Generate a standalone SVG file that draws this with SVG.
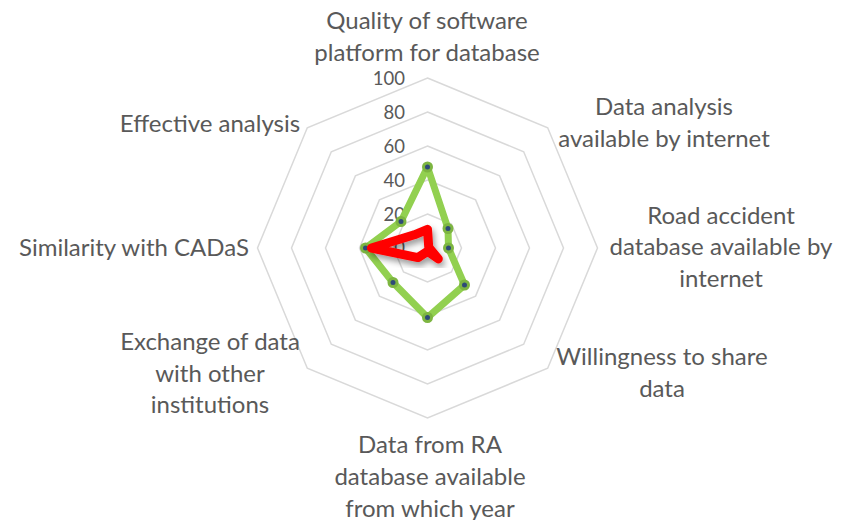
<svg xmlns="http://www.w3.org/2000/svg" width="852" height="520" viewBox="0 0 852 520">
  <style>
    .grid { fill: none; stroke: #D9D9D9; stroke-width: 1.5; }
    .cat { font-family: Lato, "Open Sans", "Liberation Sans", sans-serif; font-size: 24px; fill: #595959; text-anchor: middle; }
    .tick { font-family: Lato, "Open Sans", "Liberation Sans", sans-serif; font-size: 18.5px; fill: #595959; text-anchor: end; }
    .green { fill: none; stroke: #92D050; stroke-width: 7; stroke-linejoin: round; }
    .red { fill: none; stroke: #FF0000; stroke-width: 9; stroke-linejoin: round; stroke-linecap: round; }
    .mk { fill: #2E4A78; stroke: #7DB541; stroke-width: 3; }
  </style>
  <defs>
    <filter id="shadow" x="-30%" y="-30%" width="160%" height="160%">
      <feDropShadow dx="2" dy="4" stdDeviation="3" flood-color="#000000" flood-opacity="0.4"/>
    </filter>
  </defs>
  <rect width="852" height="520" fill="#FFFFFF"/>

  <g id="grid">
    <polygon class="grid" points="427.5,78 547.7,127.8 597.5,248 547.7,368.2 427.5,418 307.3,368.2 257.5,248 307.3,127.8"/>
    <polygon class="grid" points="427.5,112 523.7,151.8 563.5,248 523.7,344.2 427.5,384 331.3,344.2 291.5,248 331.3,151.8"/>
    <polygon class="grid" points="427.5,146 499.6,175.9 529.5,248 499.6,320.1 427.5,350 355.4,320.1 325.5,248 355.4,175.9"/>
    <polygon class="grid" points="427.5,180 475.6,199.9 495.5,248 475.6,296.1 427.5,316 379.4,296.1 359.5,248 379.4,199.9"/>
    <polygon class="grid" points="427.5,214 451.5,224 461.5,248 451.5,272 427.5,282 403.5,272 393.5,248 403.5,224"/>
  </g>

  <g id="axis-values">
    <text class="tick" x="405" y="85">100</text>
    <text class="tick" x="405" y="119">80</text>
    <text class="tick" x="405" y="153">60</text>
    <text class="tick" x="405" y="187">40</text>
    <text class="tick" x="405" y="221">20</text>
    <text class="tick" x="405" y="254">0</text>
  </g>

  <g id="label-quality">
    <text class="cat" x="427" y="29">Quality of software</text>
    <text class="cat" x="427" y="61">platform for database</text>
  </g>
  <g id="label-data-analysis">
    <text class="cat" x="664" y="115">Data analysis</text>
    <text class="cat" x="664" y="146.5">available by internet</text>
  </g>
  <g id="label-road-accident">
    <text class="cat" x="721" y="223.5">Road accident</text>
    <text class="cat" x="721" y="255">database available by</text>
    <text class="cat" x="721" y="286.5">internet</text>
  </g>
  <g id="label-willingness">
    <text class="cat" x="662" y="365">Willingness to share</text>
    <text class="cat" x="662" y="396.5">data</text>
  </g>
  <g id="label-data-from-ra">
    <text class="cat" x="430" y="453">Data from RA</text>
    <text class="cat" x="430" y="485">database available</text>
    <text class="cat" x="430" y="516.5">from which year</text>
  </g>
  <g id="label-exchange">
    <text class="cat" x="210" y="349.5">Exchange of data</text>
    <text class="cat" x="210" y="381.5">with other</text>
    <text class="cat" x="210" y="413">institutions</text>
  </g>
  <g id="label-similarity">
    <text class="cat" x="134" y="255.5">Similarity with CADaS</text>
  </g>
  <g id="label-effective">
    <text class="cat" x="210" y="131.5">Effective analysis</text>
  </g>

  <g id="series-green">
    <polygon class="green" points="427.5,167 448,228.5 448.5,248 464.5,285 427.5,317.5 393,282.5 365.5,248 401,221.5"/>
    <circle class="mk" cx="427.5" cy="167" r="4"/>
    <circle class="mk" cx="448" cy="228.5" r="4"/>
    <circle class="mk" cx="448.5" cy="248" r="4"/>
    <circle class="mk" cx="464.5" cy="285" r="4"/>
    <circle class="mk" cx="427.5" cy="317.5" r="4"/>
    <circle class="mk" cx="393" cy="282.5" r="4"/>
    <circle class="mk" cx="365.5" cy="248" r="4"/>
    <circle class="mk" cx="401" cy="221.5" r="4"/>
  </g>

  <g id="series-red" filter="url(#shadow)">
    <polygon class="red" points="427.5,229.3 428.7,246.8 429.2,248 438.3,258.8 427.5,251.4 417.9,257.6 371.4,248 414.3,234.8"/>
  </g>
</svg>
